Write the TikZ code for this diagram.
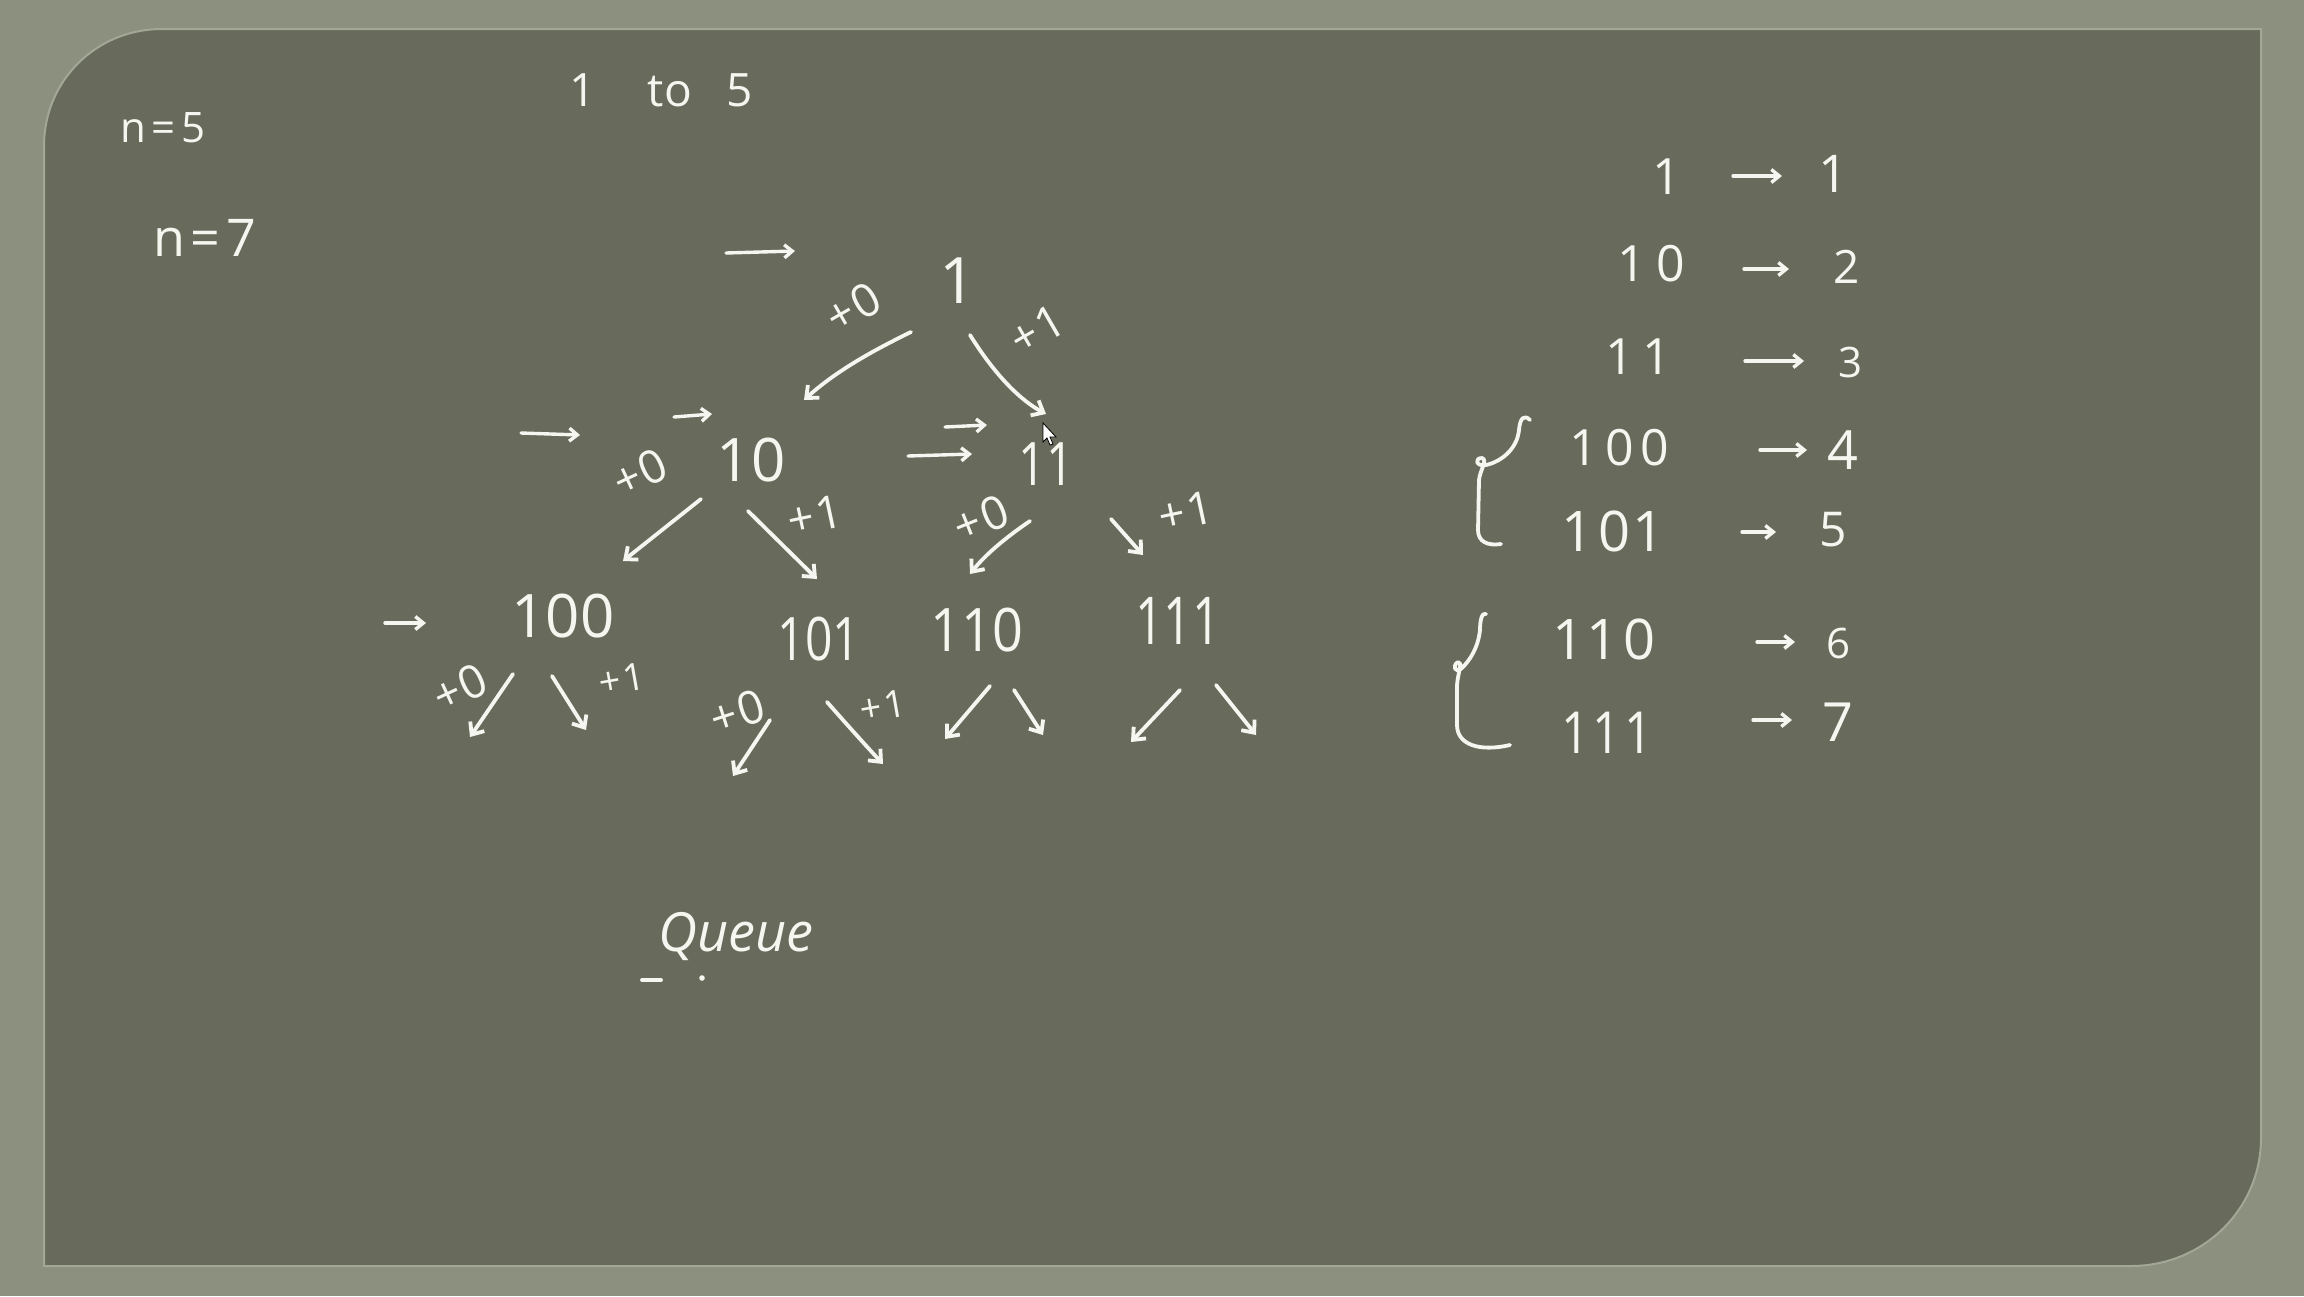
\documentclass[tikz,border=0pt]{standalone}
\usepackage{fontspec}
\setmainfont{Open Sans}
\usepackage{graphicx}
\usetikzlibrary{arrows.meta}
\definecolor{frame}{RGB}{139,144,127}
\definecolor{board}{RGB}{104,107,92}
\definecolor{edgehi}{RGB}{162,167,150}
\definecolor{chalk}{RGB}{246,246,240}
\newcommand\hwsq[2]{\scalebox{#1}[1]{#2}}
\newcommand\fsz[1]{\fontsize{#1}{#1}\selectfont}
\begin{document}
\begin{tikzpicture}[x=1pt,y=-1pt,
  hw/.style={text=chalk, inner sep=0pt, anchor=center},
  lab/.style={hw, font=\fsz{46}},
  slab/.style={hw, font=\fsz{38}},
  num/.style={hw, font=\fsz{60}},
  pen/.style={draw=chalk, line width=3.8pt, line cap=round, line join=round},
  arr/.style={pen, -{Straight Barb[length=10pt,width=17pt]}},
  sarr/.style={pen, line width=3.4pt, -{Straight Barb[length=8pt,width=13pt]}}
]
\useasboundingbox (0,0) rectangle (2304,1296);
\fill[frame] (0,0) rectangle (2304,1296);
\fill[board] (44,146) .. controls (44,81) and (96,29) .. (162,29) -- (2261,29) -- (2261,1138) .. controls (2261,1209) and (2203,1266) .. (2131,1266) -- (44,1266) -- cycle;
\draw[edgehi, line width=2pt] (44,146) .. controls (44,81) and (96,29) .. (162,29) -- (2261,29) -- (2261,1138) .. controls (2261,1209) and (2203,1266) .. (2131,1266) -- (44,1266) -- cycle;

% top-left notes
\node[hw, font=\fsz{42}] (nfive) at (163,128) {n\hspace{5pt}=\hspace{6pt}5};
\node[hw, font=\fsz{52}] (nseven) at (205,238) {n\hspace{5pt}=\hspace{6pt}7};
\node[hw, font=\fsz{46}] (range) at (661,90) {1\hspace{52pt}to\hspace{34pt}5};

% tree nodes
\node[num, font=\fsz{64}] (t1) at (958,281) {1};
\node[num] (t10) at (751,460) {10};
\node[num] (t11) at (1046,464) {\hwsq{0.8}{11}};
\node[num] (t100) at (563,616) {100};
\node[num] (t101) at (819,639) {\hwsq{0.8}{101}};
\node[num] (t110) at (977,630) {\hwsq{0.9}{110}};
\node[num, font=\fsz{66}] (t111) at (1178,621) {\hwsq{0.75}{111}};

% edge labels
\node[lab, rotate=30] (l1a) at (853,308) {+\hspace{2pt}0};
\node[lab, rotate=30] (l1b) at (1037,330) {+\hspace{2pt}1};
\node[lab, rotate=25] (l2a) at (640,473) {+\hspace{2pt}0};
\node[lab, rotate=12] (l2b) at (815,516) {+\hspace{2pt}1};
\node[lab, rotate=22] (l3a) at (981,519) {+\hspace{2pt}0};
\node[lab, rotate=12] (l3b) at (1186,512) {+\hspace{2pt}1};
\node[lab, rotate=25] (l4a) at (460,688) {+\hspace{2pt}0};
\node[slab, rotate=10] (l4b) at (622,679) {+\hspace{2pt}1};
\node[lab, rotate=18] (l5a) at (737,712) {+\hspace{2pt}0};
\node[slab, rotate=10] (l5b) at (883,706) {+\hspace{2pt}1};

% tree arrows
\draw[arr] (911,332) .. controls (870,352) and (835,372) .. (804,400);
\draw[arr] (970,335) .. controls (995,375) and (1020,400) .. (1046,414);
\draw[arr] (701,499) -- (623,561);
\draw[arr] (748,511) -- (817,579);
\draw[arr] (1030,521) .. controls (1005,538) and (985,555) .. (970,574);
\draw[arr] (1111,519) -- (1143,555);
\draw[arr] (513,674) -- (470,737);
\draw[arr] (552,676) -- (586,730);
\draw[arr] (770,720) -- (733,776);
\draw[arr] (827,702) .. controls (850,728) and (868,748) .. (883,764);
\draw[arr] (990,686) -- (945,739);
\draw[arr] (1014,690) -- (1043,735);
\draw[arr] (1180,690) -- (1131,742);
\draw[arr] (1216,685) -- (1256,735);

% queue pointer arrows
\draw[sarr] (726,253) -- (795,251);
\draw[sarr] (674,417) -- (712,414);
\draw[sarr] (521,433) -- (580,435);
\draw[sarr] (945,427) -- (987,425);
\draw[sarr] (908,456) -- (972,454);
\draw[sarr] (385,623) -- (426,623);

% mouse cursor
\filldraw[fill=white, draw=black, line width=0.8pt] (1043,423) -- (1043,442) -- (1047,438) -- (1050,445) -- (1053,444) -- (1050,437) -- (1056,437) -- cycle;

% table
\node[hw, font=\fsz{50}] (r1) at (1667,177) {1};
\node[hw, font=\fsz{50}] (r10) at (1651,264) {1\hspace{10pt}0};
\node[hw, font=\fsz{50}] (r11) at (1638,357) {1\hspace{8pt}1};
\node[hw, font=\fsz{50}] (r100) at (1619,448) {1\hspace{8pt}0\hspace{6pt}0};
\node[hw, font=\fsz{56}] (r101) at (1613,531) {1\hspace{4pt}0\hspace{2pt}1};
\node[hw, font=\fsz{56}] (r110) at (1604,639) {1\hspace{2pt}1\hspace{4pt}0};
\node[hw, font=\fsz{58}] (r111) at (1607,733) {\hwsq{0.85}{1\hspace{4pt}1\hspace{4pt}1}};

\node[hw, font=\fsz{52}] (v1) at (1833,174) {1};
\node[hw, font=\fsz{46}] (v2) at (1847,267) {2};
\node[hw, font=\fsz{42}] (v3) at (1850,362) {3};
\node[hw, font=\fsz{54}] (v4) at (1843,450) {4};
\node[hw, font=\fsz{48}] (v5) at (1833,530) {5};
\node[hw, font=\fsz{42}] (v6) at (1838,643) {6};
\node[hw, font=\fsz{54}] (v7) at (1838,722) {7};

\draw[sarr] (1733,176) -- (1782,176);
\draw[sarr] (1744,269) -- (1789,269);
\draw[sarr] (1745,361) -- (1804,361);
\draw[sarr] (1760,450) -- (1807,450);
\draw[sarr] (1742,532) -- (1776,532);
\draw[sarr] (1757,642) -- (1795,642);
\draw[sarr] (1753,720) -- (1792,720);

% brackets
\draw[pen] (1530,420) .. controls (1524,414) and (1520,418) .. (1519,430) .. controls (1517,450) and (1500,462) .. (1486,465) .. controls (1476,467) and (1474,458) .. (1482,458) .. controls (1488,460) and (1480,470) .. (1479,480) -- (1478,530) .. controls (1478,542) and (1488,546) .. (1501,544);
\draw[pen] (1486,614) .. controls (1482,612) and (1480,620) .. (1480,630) .. controls (1478,648) and (1470,660) .. (1462,668) .. controls (1455,675) and (1452,665) .. (1458,662) .. controls (1463,662) and (1458,672) .. (1457,685) -- (1457,725) .. controls (1457,745) and (1480,752) .. (1510,745);

% Queue
\node[hw, font=\fsz{54}\itshape] (queue) at (736,936) {Queue};
\draw[pen] (642,980) -- (661,980);
\fill[chalk] (702,978) circle (2.8);
\end{tikzpicture}
\end{document}
